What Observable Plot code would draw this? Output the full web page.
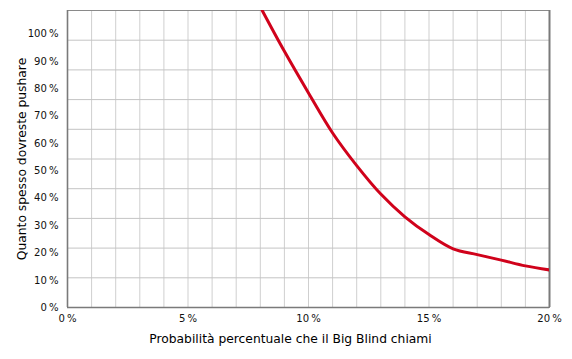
<!DOCTYPE html>
<html>
<head>
<meta charset="utf-8">
<script src="https://cdn.jsdelivr.net/npm/d3@7"></script>
<script src="https://cdn.jsdelivr.net/npm/@observablehq/plot@0.6"></script>
<style>
  html, body { margin: 0; padding: 0; background: #fff; }
  #chart svg { display: block; }
  g[aria-label="y-axis tick label"] text,
  g[aria-label="x-axis tick label"] text {
    font-family: "Liberation Sans Narrow", "DejaVu Sans Condensed", sans-serif;
    font-size: 11.2px;
    fill: #111;
  }
  g[aria-label="y-axis label"] text {
    font-family: "DejaVu Sans", Verdana, sans-serif;
    font-size: 12.3px;
    fill: #000;
  }
</style>
</head>
<body>
<div id="chart"></div>
<script>
// Curve: x = % chance the Big Blind calls, y = % how often to push
const callPct = [8.08, 9, 10, 11, 12, 13, 14, 15, 16, 17, 18, 19, 20];
const pushPct = [108.4, 93.5, 78.3, 63.7, 51.8, 41.4, 33.1, 26.6, 21.4, 19.3, 17.3, 15.2, 13.7];

// Axis tick labels and titles
const xTicks = [0, 5, 10, 15, 20];
const yTicks = [0, 10, 20, 30, 40, 50, 60, 70, 80, 90, 100];
const xTitle = "Probabilità percentuale che il Big Blind chiami";
const yTitle = "Quanto spesso dovreste pushare";

// Axis extents and grid divisions
const xMax = 20;
const yMax = 108.4;
const xGridStep = 1;
const yGridCount = 10;

const data = callPct.map((x, i) => ({x, y: pushPct[i]}));
const xGrid = d3.range(0, xMax + 0.001, xGridStep);
const yGrid = d3.range(0, yGridCount + 1).map(i => i * yMax / yGridCount);

const chart = Plot.plot({
  width: 572,
  height: 359,
  marginLeft: 67,
  marginRight: 23,
  marginTop: 10,
  marginBottom: 52,
  x: {domain: [0, xMax]},
  y: {domain: [0, yMax]},
  marks: [
    Plot.gridX(xGrid, {stroke: "#cfcfcf", strokeOpacity: 1, strokeWidth: 1}),
    Plot.gridY(yGrid, {stroke: "#c4c4c4", strokeOpacity: 1, strokeWidth: 1}),
    Plot.frame({stroke: "#8a8a8a", strokeWidth: 1}),
    Plot.ruleX([0], {stroke: "#7a7a7a", strokeWidth: 1.6}),
    Plot.ruleX([xMax], {stroke: "#7a7a7a", strokeWidth: 2}),
    Plot.ruleY([0], {stroke: "#7a7a7a", strokeWidth: 1.6}),
    Plot.line(data, {x: "x", y: "y", stroke: "#d0021b", strokeWidth: 3, curve: "catmull-rom", clip: true}),
    Plot.axisX(xTicks, {
      tickSize: 0, tickPadding: 7,
      tickFormat: d => d + "\u2009%",
      label: null
    }),
    Plot.text([xTitle], {
      frameAnchor: "bottom", dx: -18, dy: 32, lineAnchor: "middle",
      fontFamily: "DejaVu Sans, Verdana, sans-serif", fontSize: 12.3, fill: "#000"
    }),
    Plot.axisY(yTicks, {
      tickSize: 0, tickPadding: 9,
      tickFormat: d => d + "\u2009%",
      label: yTitle,
      labelAnchor: "center", labelArrow: "none", labelOffset: 50
    })
  ]
});
document.getElementById("chart").appendChild(chart);
</script>
</body>
</html>
